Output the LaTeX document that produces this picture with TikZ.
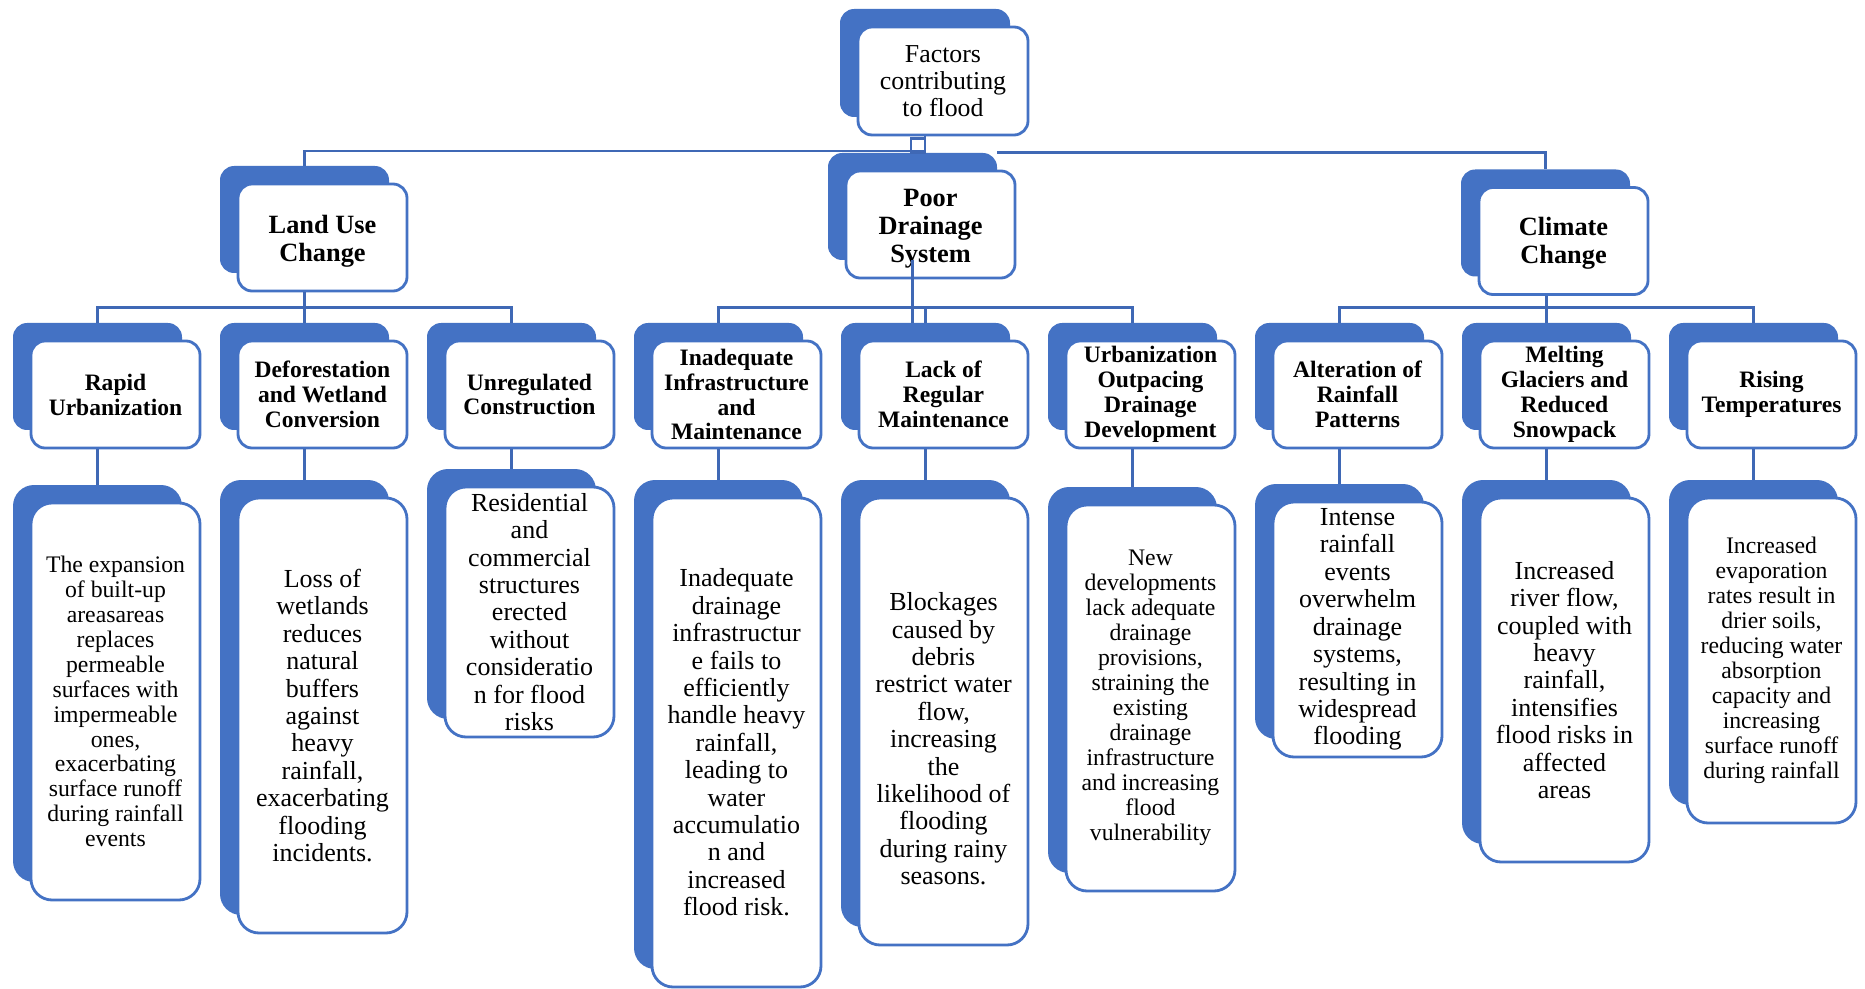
\documentclass[tikz,border=0pt]{standalone}
\usepackage{fontspec}
\setmainfont{Liberation Serif}
\usepackage{tikz}
\usetikzlibrary{calc, positioning}

\definecolor{floodblue}{HTML}{4472C4}
\definecolor{linkblue}{HTML}{3F68B5}

% blue card behind, white card in front
\newcommand{\cardpair}[6][]{%
  \node[card back, #1, minimum width=#4*0.02cm, minimum height=#5*0.02cm] (#2-bk) at ($(#3)+(-18,-18)$) {};
  \node[card, #1, minimum width=#4*0.02cm, minimum height=#5*0.02cm] (#2) at (#3) {#6};}

\begin{document}
\begin{tikzpicture}[x=0.02cm, y=-0.02cm,
    card/.style={draw=floodblue, fill=white, line width=1.6pt, rounded corners=8pt, align=center, inner sep=1pt},
    card back/.style={fill=floodblue, rounded corners=8pt, inner sep=0pt},
    conn/.style={draw=linkblue, line width=1.4pt},
    rootfont/.style={font=\fontsize{14.7}{15.3}\selectfont},
    headfont/.style={font=\bfseries\fontsize{15}{15.9}\selectfont},
    subfont/.style={font=\bfseries\fontsize{13.4}{14.2}\selectfont},
    infofont/.style={font=\fontsize{14.8}{15.6}\selectfont, rounded corners=12pt},
    smallinfo/.style={font=\fontsize{13.5}{14.2}\selectfont, rounded corners=12pt}]

\path[use as bounding box, fill=white] (0,0) rectangle (1865,989);

% top levels
\cardpair[rootfont]{root}{943,81}{170}{108}{Factors\\contributing\\to flood}
\cardpair[headfont]{landuse}{322.5,237.5}{169}{107}{\rule{0pt}{14.5pt}Land Use\\Change}
\cardpair[headfont]{drain}{930.5,224.5}{169}{107}{\rule{0pt}{14.5pt}Poor\\Drainage\\System}
\cardpair[headfont]{climate}{1563.5,241}{169}{107}{\rule{0pt}{13.5pt}Climate\\Change}

% factors
\cardpair[subfont]{rapid}{115.5,394.5}{169}{107}{Rapid\\Urbanization}
\cardpair[subfont]{deforest}{322.5,394.5}{169}{107}{Deforestation\\and Wetland\\Conversion}
\cardpair[subfont]{unreg}{529.5,394.5}{169}{107}{Unregulated\\Construction}
\cardpair[subfont]{infra}{736.5,394.5}{169}{107}{Inadequate\\Infrastructure\\and\\Maintenance}
\cardpair[subfont]{lack}{943.5,394.5}{169}{107}{Lack of\\Regular\\Maintenance}
\cardpair[subfont]{outpace}{1150.5,394.5}{169}{107}{Urbanization\\Outpacing\\Drainage\\Development}
\cardpair[subfont]{alter}{1357.5,394.5}{169}{107}{Alteration of\\Rainfall\\Patterns}
\cardpair[subfont]{melt}{1564.5,394.5}{169}{107}{Melting\\Glaciers and\\Reduced\\Snowpack}
\cardpair[subfont]{rising}{1771.5,394.5}{169}{107}{Rising\\Temperatures}

% explanations
\cardpair[smallinfo]{rapid-info}{115.5,701.5}{169}{397}{The expansion\\of built-up\\areasareas\\replaces\\permeable\\surfaces with\\impermeable\\ones,\\exacerbating\\surface runoff\\during rainfall\\events}
\cardpair[infofont]{deforest-info}{322.5,715.5}{169}{435}{Loss of\\wetlands\\reduces\\natural\\buffers\\against\\heavy\\rainfall,\\exacerbating\\flooding\\incidents.}
\cardpair[infofont]{unreg-info}{529.5,612}{169}{250}{Residential\\and\\commercial\\structures\\erected\\without\\consideratio\\n for flood\\risks}
\cardpair[infofont]{infra-info}{736.5,742.5}{169}{489}{Inadequate\\drainage\\infrastructur\\e fails to\\efficiently\\handle heavy\\rainfall,\\leading to\\water\\accumulatio\\n and\\increased\\flood risk.}
\cardpair[infofont]{lack-info}{943.5,721.5}{169}{447}{\rule{0pt}{30pt}Blockages\\caused by\\debris\\restrict water\\flow,\\increasing\\the\\likelihood of\\flooding\\during rainy\\seasons.}
\cardpair[smallinfo]{outpace-info}{1150.5,698}{169}{386}{New\\developments\\lack adequate\\drainage\\provisions,\\straining the\\existing\\drainage\\infrastructure\\and increasing\\flood\\vulnerability}
\cardpair[infofont]{alter-info}{1357.5,629.5}{169}{255}{Intense\\rainfall\\events\\overwhelm\\drainage\\systems,\\resulting in\\widespread\\flooding}
\cardpair[infofont]{melt-info}{1564.5,680}{169}{364}{Increased\\river flow,\\coupled with\\heavy\\rainfall,\\intensifies\\flood risks in\\affected\\areas}
\cardpair[smallinfo]{rising-info}{1771.5,660.5}{169}{325}{Increased\\evaporation\\rates result in\\drier soils,\\reducing water\\absorption\\capacity and\\increasing\\surface runoff\\during rainfall}

% root to main causes
\draw[conn] (landuse-bk.north) |- (root-bk.south |- 0,151) -- (root-bk.south |- root.south);
\draw[conn] (root-bk.south |- root.south) ++(-14,2) rectangle ++(14,14);
\draw[conn] (drain-bk.north east) -| (climate-bk.north);

% main causes to factors
\draw[conn] (deforest-bk.north |- landuse.south) -- (deforest-bk.north);
\draw[conn] (rapid-bk.north) -- ++(0,-15) -| (unreg-bk.north);
\draw[conn] (drain-bk.south) -- (drain-bk.south |- lack-bk.north);
\draw[conn] (infra-bk.north) -- ++(0,-15) -| (outpace-bk.north);
\draw[conn] (lack-bk.north) -- ++(0,-15);
\draw[conn] (melt-bk.north |- climate.south) -- (melt-bk.north);
\draw[conn] (alter-bk.north) -- ++(0,-15) -| (rising-bk.north);

% factors to explanations
\foreach \f in {rapid, deforest, unreg, infra, lack, outpace, alter, melt, rising}
  \draw[conn] (\f-info-bk.north |- \f.south) -- (\f-info-bk.north);
\end{tikzpicture}
\end{document}
